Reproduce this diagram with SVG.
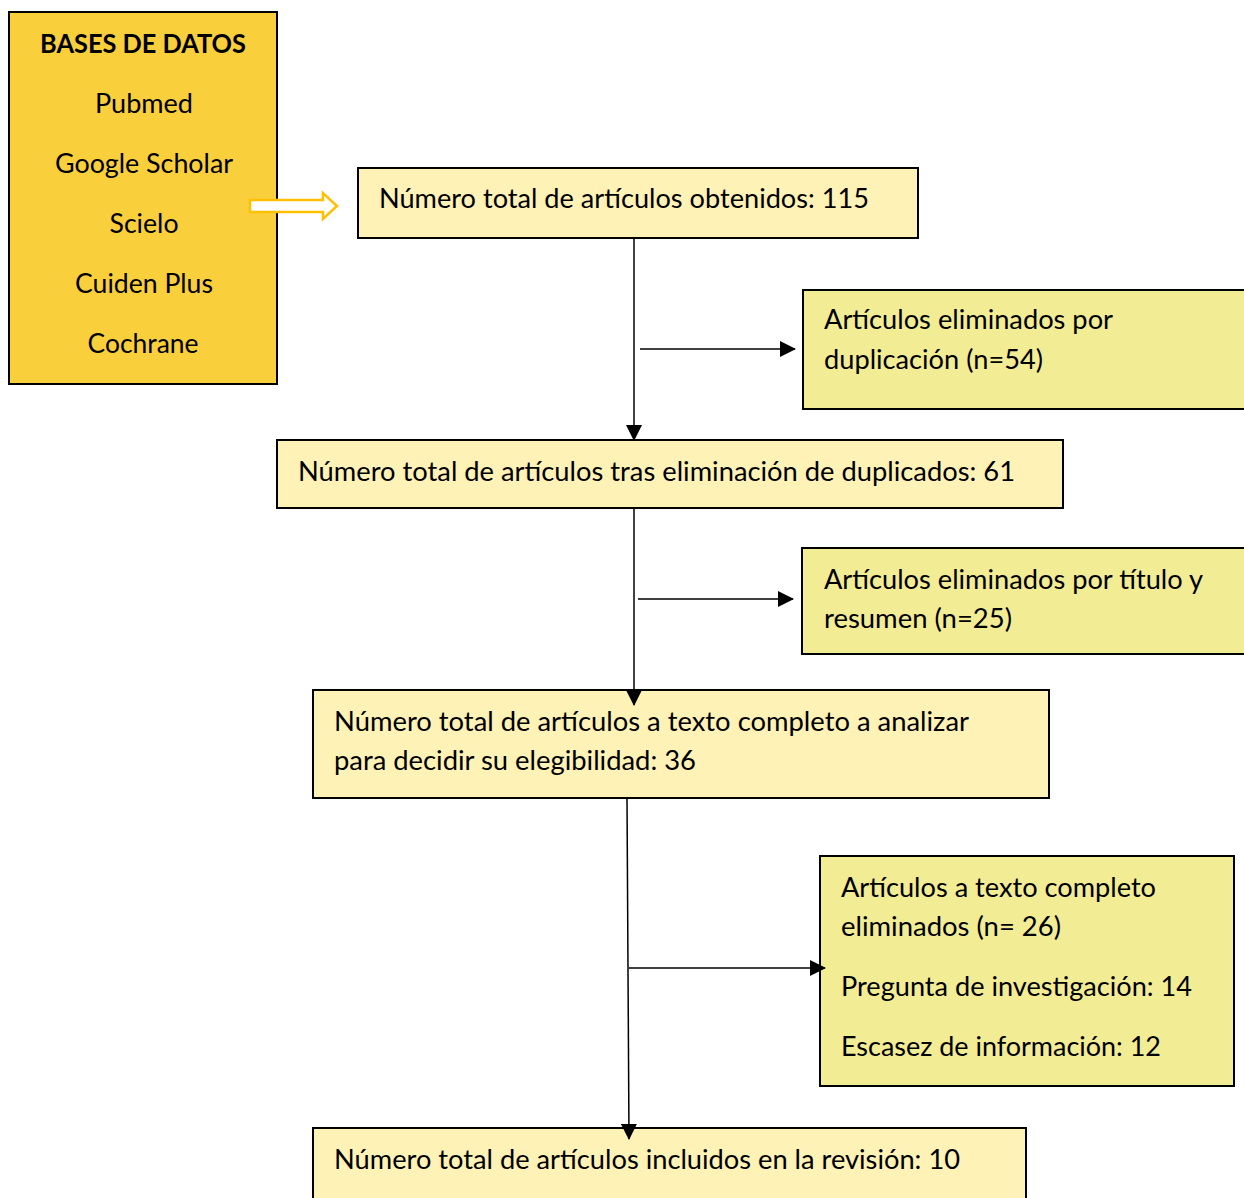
<svg xmlns="http://www.w3.org/2000/svg" width="1244" height="1198" viewBox="0 0 1244 1198">
<style>
text{font-family:Lato,"Open Sans","Liberation Sans",sans-serif;font-size:26px;fill:#000}
.b{font-weight:bold}
.c{text-anchor:middle}
.light{fill:#FFF2B6;stroke:#000;stroke-width:2}
.side{fill:#F2EC95;stroke:#000;stroke-width:2}
.line{stroke:#000;stroke-width:1.5;fill:none}
</style>
<defs>
<marker id="av" markerWidth="16" markerHeight="16" refX="15" refY="8" orient="auto" markerUnits="userSpaceOnUse">
<path d="M0,0 L16,8 L0,16 Z" fill="#000"/>
</marker>
</defs>
<g id="db">
<rect x="9" y="12" width="268" height="372" fill="#F9CF3B" stroke="#000" stroke-width="2"/>
<text class="b c" x="143" y="53" textLength="206" lengthAdjust="spacingAndGlyphs">BASES DE DATOS</text>
<text class="c" x="144" y="113" textLength="98" lengthAdjust="spacingAndGlyphs">Pubmed</text>
<text class="c" x="144" y="173" textLength="178" lengthAdjust="spacingAndGlyphs">Google Scholar</text>
<text class="c" x="144" y="233" textLength="69" lengthAdjust="spacingAndGlyphs">Scielo</text>
<text class="c" x="144" y="293" textLength="138" lengthAdjust="spacingAndGlyphs">Cuiden Plus</text>
<text class="c" x="143" y="353" textLength="111" lengthAdjust="spacingAndGlyphs">Cochrane</text>
</g>
<g id="n1">
<rect class="light" x="358" y="168" width="560" height="70"/>
<text x="379" y="208" textLength="490" lengthAdjust="spacingAndGlyphs">Número total de artículos obtenidos: 115</text>
</g>
<g id="r1">
<rect class="side" x="803" y="290" width="445" height="119"/>
<text x="824" y="329" textLength="289" lengthAdjust="spacingAndGlyphs">Artículos eliminados por</text>
<text x="824" y="369" textLength="219" lengthAdjust="spacingAndGlyphs">duplicación (n=54)</text>
</g>
<g id="n2">
<rect class="light" x="277" y="440" width="786" height="68"/>
<text x="298" y="481" textLength="717" lengthAdjust="spacingAndGlyphs">Número total de artículos tras eliminación de duplicados: 61</text>
</g>
<g id="r2">
<rect class="side" x="802" y="548" width="446" height="106"/>
<text x="824" y="589" textLength="379" lengthAdjust="spacingAndGlyphs">Artículos eliminados por título y</text>
<text x="824" y="628" textLength="188" lengthAdjust="spacingAndGlyphs">resumen (n=25)</text>
</g>
<g id="n3">
<rect class="light" x="313" y="690" width="736" height="108"/>
<text x="334" y="731" textLength="635" lengthAdjust="spacingAndGlyphs">Número total de artículos a texto completo a analizar</text>
<text x="334" y="770" textLength="362" lengthAdjust="spacingAndGlyphs">para decidir su elegibilidad: 36</text>
</g>
<g id="r3">
<rect class="side" x="820" y="856" width="414" height="230"/>
<text x="841" y="897" textLength="315" lengthAdjust="spacingAndGlyphs">Artículos a texto completo</text>
<text x="841" y="936" textLength="220" lengthAdjust="spacingAndGlyphs">eliminados (n= 26)</text>
<text x="841" y="996" textLength="351" lengthAdjust="spacingAndGlyphs">Pregunta de investigación: 14</text>
<text x="841" y="1056" textLength="320" lengthAdjust="spacingAndGlyphs">Escasez de información: 12</text>
</g>
<g id="n4">
<rect class="light" x="313" y="1128" width="713" height="80"/>
<text x="334" y="1169" textLength="626" lengthAdjust="spacingAndGlyphs">Número total de artículos incluidos en la revisión: 10</text>
</g>
<g id="connectors">
<path d="M250,200 L323,200 L323,193 L337,206 L323,219 L323,212 L250,212 Z" fill="#fff" stroke="#FFC000" stroke-width="2.5"/>
<line class="line" x1="634" y1="238" x2="634" y2="440" marker-end="url(#av)"/>
<line class="line" x1="640" y1="349" x2="795" y2="349" marker-end="url(#av)"/>
<line class="line" x1="634" y1="508" x2="634" y2="705" marker-end="url(#av)"/>
<line class="line" x1="638" y1="599" x2="793" y2="599" marker-end="url(#av)"/>
<line class="line" x1="627" y1="798" x2="629" y2="1139" marker-end="url(#av)"/>
<line class="line" x1="629" y1="968" x2="825" y2="968" marker-end="url(#av)"/>
</g>
</svg>
